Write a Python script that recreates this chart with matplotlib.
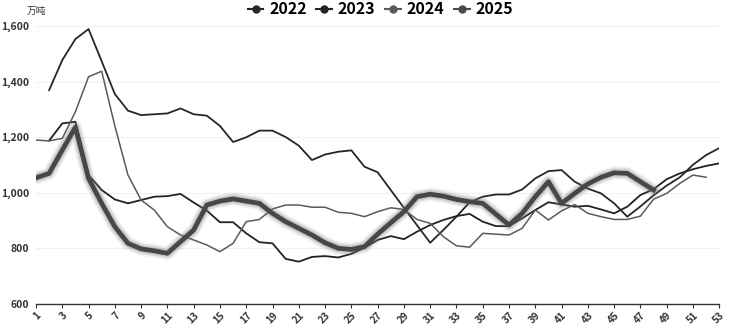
import numpy as np
import matplotlib.pyplot as plt
import matplotlib.patheffects as pe

plt.rcParams['font.family'] = ['Noto Sans CJK SC', 'DejaVu Sans']

# 周度库存 (万吨)
weeks_2022 = list(range(2, 54))
stock_2022 = [1369, 1477, 1553, 1589, 1473, 1355, 1295, 1279, 1282, 1285,
              1303, 1282, 1277, 1240, 1182, 1199, 1223, 1223, 1200, 1169,
              1117, 1137, 1147, 1152, 1093, 1073, 1009, 945, 882, 819,
              865, 913, 965, 985, 993, 993, 1011, 1051, 1077, 1081,
              1039, 1014, 997, 961, 913, 950, 990, 1025, 1055, 1100,
              1135, 1160]

weeks_2023 = list(range(2, 54))
stock_2023 = [1187, 1249, 1255, 1063, 1009, 975, 961, 973, 985, 987,
              995, 964, 935, 893, 893, 853, 821, 817, 761, 751,
              768, 771, 766, 779, 801, 829, 843, 832, 859, 883,
              901, 915, 923, 895, 879, 879, 907, 937, 965, 957,
              949, 952, 939, 925, 949, 991, 1012, 1048, 1069, 1084,
              1096, 1105]

weeks_2024 = list(range(1, 53))
stock_2024 = [1189, 1186, 1195, 1291, 1417, 1437, 1240, 1063, 973, 937,
              877, 847, 829, 811, 787, 817, 895, 903, 941, 955,
              955, 947, 947, 929, 925, 913, 931, 945, 939, 903,
              889, 841, 808, 803, 853, 850, 847, 871, 937, 901,
              934, 957, 925, 913, 903, 903, 915, 976, 997, 1033,
              1063, 1055]

weeks_2025 = list(range(1, 49))
stock_2025 = [1053, 1069, 1153, 1235, 1051, 961, 877, 817, 797, 790,
              781, 823, 865, 955, 969, 977, 969, 961, 925, 895,
              871, 847, 819, 799, 795, 805, 850, 891, 931, 985,
              994, 987, 975, 967, 961, 922, 883, 925, 985, 1039,
              961, 997, 1031, 1055, 1071, 1069, 1039, 1009]

fig = plt.figure(figsize=(7.3, 3.25), dpi=100)
ax = fig.add_axes([0.0493, 0.066, 0.936, 0.854])

ax.plot(weeks_2022, stock_2022, color='#262626', lw=1.3, label='2022', zorder=3)
ax.plot(weeks_2023, stock_2023, color='#222222', lw=1.3, label='2023', zorder=3)
ax.plot(weeks_2024, stock_2024, color='#5a5a5a', lw=1.1, label='2024', zorder=3)

# 2025 粗线 + 柔和光晕
glow = [pe.Stroke(linewidth=w, foreground='#7a7a7a', alpha=a)
        for w, a in [(10, 0.06), (8.5, 0.09), (7, 0.13), (5.5, 0.2)]]
ax.plot(weeks_2025, stock_2025, color='#474747', lw=3.4, label='2025', zorder=4,
        path_effects=glow + [pe.Normal()])

ax.set_xlim(1, 53)
ax.set_ylim(600, 1600)
ax.set_yticks([600, 800, 1000, 1200, 1400, 1600])
ax.set_yticklabels([f'{v:,}' for v in [600, 800, 1000, 1200, 1400, 1600]],
                   fontsize=7.5, fontweight='bold', color='#333333')
ax.set_xticks(range(1, 54, 2))
ax.set_xticklabels([str(w) for w in range(1, 54, 2)], rotation=45,
                   fontsize=7, fontweight='bold', color='#333333',
                   ha='right', va='top', rotation_mode='anchor')
ax.tick_params(axis='y', length=0, pad=5)
ax.tick_params(axis='x', length=3, color='#333333', pad=2)

ax.grid(axis='y', color='#f0f0f0', lw=0.8)
ax.set_axisbelow(True)
for s in ['top', 'right', 'left']:
    ax.spines[s].set_visible(False)
ax.spines['bottom'].set_color('#333333')
ax.spines['bottom'].set_linewidth(1)

fig.text(0.036, 0.965, '万吨', fontsize=7, color='#333333', va='center')

handles = []
for c in ['#262626', '#222222', '#5a5a5a', '#4a4a4a']:
    h, = ax.plot([], [], color=c, lw=1.5, marker='o', markersize=5)
    handles.append(h)
leg = fig.legend(handles, ['2022', '2023', '2024', '2025'], loc='center',
                 bbox_to_anchor=(0.521, 0.972), ncol=4, frameon=False,
                 handlelength=1.0, handletextpad=0.35, columnspacing=0.6,
                 prop={'size': 11.5, 'weight': 'bold'})

fig.savefig('out.png', dpi=100)
